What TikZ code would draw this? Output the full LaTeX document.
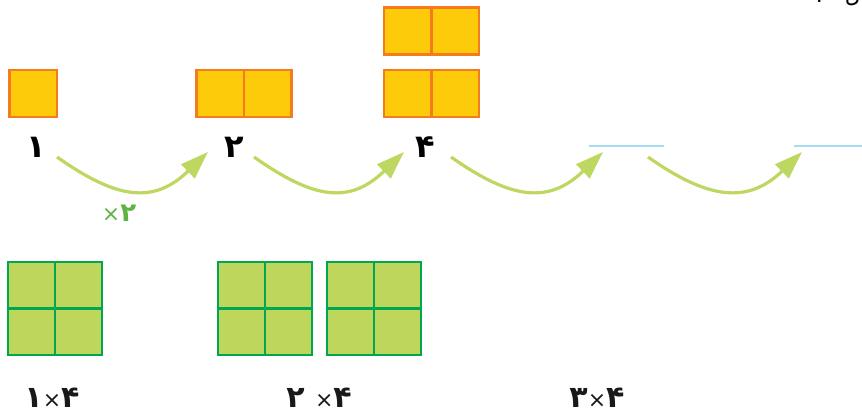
\documentclass[tikz,border=0pt]{standalone}
\usepackage{fontspec}
\usetikzlibrary{arrows.meta}
\newfontfamily\fa[Script=Arabic]{DejaVu Sans}
\TeXXeTstate=1
\definecolor{yfill}{HTML}{FDCB0A}
\definecolor{ystroke}{HTML}{F47B20}
\definecolor{gfill}{HTML}{BDD65B}
\definecolor{gstroke}{HTML}{00A651}
\definecolor{arrowc}{HTML}{BDD760}
\definecolor{labelg}{HTML}{5DB446}
\definecolor{blankc}{HTML}{A6DCF2}
\newcommand{\tms}{{\fontseries{m}\fontsize{22}{26}\selectfont ×}}
\tikzset{
  ycell/.style={draw=ystroke,fill=yfill,line width=2.5pt,inner sep=0pt,outer sep=0pt,minimum width=47.5pt,minimum height=47pt},
  gcell/.style={draw=gstroke,fill=gfill,line width=2.8pt,inner sep=0pt,outer sep=0pt,minimum width=47pt,minimum height=46.5pt},
  digit/.style={font=\fa\bfseries\fontsize{32}{36}\selectfont,text=black,inner sep=0pt,anchor=base},
  blabel/.style={font=\fa\bfseries\fontsize{30}{34}\selectfont,text=black!90,inner sep=0pt,anchor=base},
  multlabel/.style={font=\fa\bfseries\fontsize{26}{30}\selectfont,text=labelg,inner sep=0pt,anchor=base},
  curvearrow/.style={draw=arrowc,line width=3.2pt,-{Triangle[length=28pt,width=19pt]}},
  blankline/.style={draw=blankc,line width=1.5pt},
}
\begin{document}
\begin{tikzpicture}[x=1pt,y=-1pt]
\useasboundingbox (0,0) rectangle (862,415);
% top-right cropped text fragment
\begin{scope}
\clip (760,0) rectangle (862,30);
\node[font=\fa\fontsize{22}{26}\selectfont,inner sep=0pt,anchor=base east] (frag) at (861,2) {\beginR ل\hspace{22pt}.\endR};
\end{scope}
% yellow squares
\node[ycell] (y1) at (33,93.5) {};
\node[ycell] (y2a) at (220,93.5) {};
\node[ycell] (y2b) at (267.5,93.5) {};
\node[ycell] (y4a) at (407.5,31) {};
\node[ycell] (y4b) at (455,31) {};
\node[ycell] (y4c) at (407.5,93.5) {};
\node[ycell] (y4d) at (455,93.5) {};
% labels
\node[digit] (n1) at (36,157) {۱};
\node[digit] (n2) at (234,157) {۲};
\node[digit] (n4) at (425,157) {۴};
% blanks
\coordinate (b1s) at (589,146);
\coordinate (b1e) at (664,146);
\coordinate (b2s) at (794,146);
\coordinate (b2e) at (862,146);
\draw[blankline] (b1s) -- (b1e);
\draw[blankline] (b2s) -- (b2e);
% arrows
\foreach \i/\sx/\ex in {1/57/208,2/254/404,3/451/603,4/648/802}{
  \coordinate (a\i s) at (\sx,157);
  \coordinate (a\i e) at (\ex,152);
  \coordinate (a\i c1) at (\sx+61,200);
  \coordinate (a\i c2) at (\ex-54,204);
  \draw[curvearrow] (a\i s) .. controls (a\i c1) and (a\i c2) .. (a\i e);
}
\node[multlabel] (m2) at (119,221) {\beginR ۲\tms\endR};
% green squares
\foreach \n/\x in {g1/8,g2/218,g3/327}{
  \node[gcell] (\n a) at (\x+23.5,285.25) {};
  \node[gcell] (\n b) at (\x+70.5,285.25) {};
  \node[gcell] (\n c) at (\x+23.5,331.75) {};
  \node[gcell] (\n d) at (\x+70.5,331.75) {};
}
% bottom labels
\node[blabel] (l1) at (52,407) {\beginR ۴\tms۱\endR};
\node[blabel] (l2) at (319,407) {\beginR ۴\tms{} ۲\endR};
\node[blabel] (l3) at (597,407) {\beginR ۴\tms۳\endR};
\end{tikzpicture}
\end{document}
